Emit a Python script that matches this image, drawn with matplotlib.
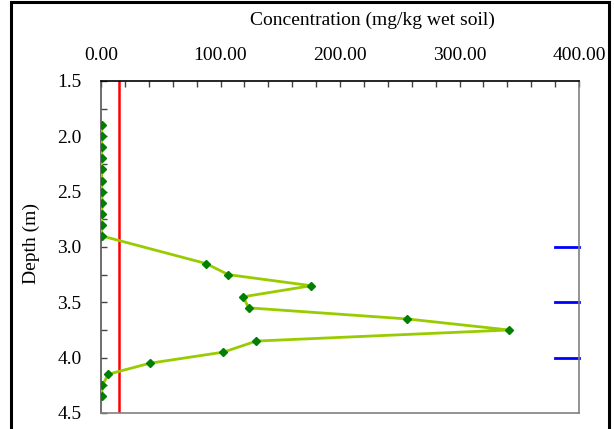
import matplotlib.pyplot as plt
from matplotlib.patches import Rectangle

depth = [1.9, 2.0, 2.1, 2.2, 2.3, 2.4, 2.5, 2.6, 2.7, 2.8, 2.9,
         3.15, 3.25, 3.35, 3.45, 3.55, 3.65, 3.75, 3.85, 3.95,
         4.05, 4.15, 4.25, 4.35]
conc = [0.5, 0.5, 0.5, 0.5, 0.5, 0.5, 0.5, 1.2, 0.5, 0.5, 0.5,
        88.0, 106.5, 176.0, 119.0, 123.5, 256.0, 341.5, 130.0, 102.5,
        41.0, 6.0, 1.2, 0.5]
limit = 15.0
marker_depths = [3.0, 3.5, 4.0]
xticks = [0, 100, 200, 300, 400]
yticks = [1.5, 2.0, 2.5, 3.0, 3.5, 4.0, 4.5]

plt.rcParams['font.family'] = ['Liberation Serif', 'DejaVu Serif']

fig = plt.figure(figsize=(6.14, 4.29), dpi=100)
ax = fig.add_axes([0.1645, 0.0373, 0.7785, 0.774])

ax.plot(conc, depth, color="#99cc00", linewidth=2, zorder=3)
ax.plot(conc, depth, linestyle="none", marker="D", markersize=4.5,
        color="#008000", zorder=4)
ax.axvline(limit, color="red", linewidth=1.8, zorder=2)
for d in marker_depths:
    ax.plot([380, 400], [d, d], color="blue", linewidth=2, clip_on=False)

ax.set_xlim(0, 400)
ax.set_ylim(4.5, 1.5)
ax.xaxis.tick_top()
ax.set_xticks(xticks)
ax.set_xticklabels([f"{v:.2f}" for v in xticks])
ax.set_xticks(range(0, 401, 20), minor=True)
ax.set_yticks(yticks)
ax.set_yticklabels([f"{v:.1f}" for v in yticks])
ax.set_yticks([1.5 + 0.25 * i for i in range(13)], minor=True)
ax.tick_params(which="both", direction="in", length=4, width=1,
               labelsize=14, color="#444444", right=False, bottom=False)
ax.tick_params(axis="x", pad=12)
ax.tick_params(axis="y", pad=14)

ax.spines["top"].set_color("black")
ax.spines["left"].set_color("#555555")
ax.spines["right"].set_color("#808080")
ax.spines["bottom"].set_color("#808080")
for s in ax.spines.values():
    s.set_linewidth(1.2)

fig.text(0.607, 0.953, "Concentration (mg/kg wet soil)", ha="center",
         va="center", fontsize=14)
fig.text(0.051, 0.433, "Depth (m)", ha="center", va="center",
         rotation=90, fontsize=14)

fig.patches.append(Rectangle((0.018, -0.1), 0.974, 1.095,
                             transform=fig.transFigure, fill=False,
                             edgecolor="black", linewidth=2.2))

fig.savefig("out.png", dpi=100)
